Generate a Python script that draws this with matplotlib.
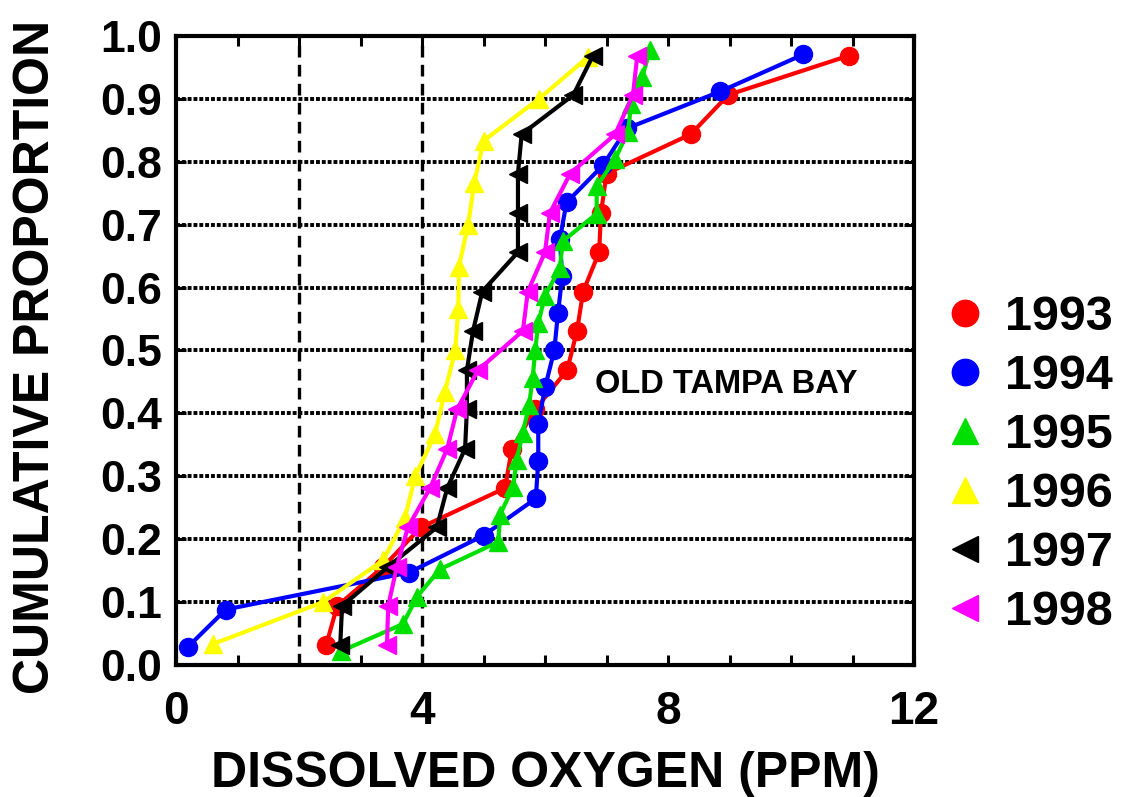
import numpy as np
import matplotlib
matplotlib.use("Agg")
import matplotlib.pyplot as plt
from matplotlib.ticker import MultipleLocator, FormatStrFormatter

plt.rcParams['font.family'] = ['Liberation Sans', 'DejaVu Sans']
plt.rcParams['font.weight'] = 'bold'

# dissolved oxygen (ppm), sorted, one list per year
do_1993 = [2.44, 2.62, 3.37, 3.98, 5.35, 5.46, 5.84, 6.36, 6.52, 6.62, 6.88, 6.91, 7.0, 8.37, 8.98, 10.94]
do_1994 = [0.2, 0.81, 3.79, 5.0, 5.85, 5.89, 5.89, 6.0, 6.15, 6.21, 6.28, 6.24, 6.35, 6.94, 7.33, 8.85, 10.2]
do_1995 = [2.68, 3.69, 3.92, 4.29, 5.24, 5.27, 5.48, 5.54, 5.64, 5.74, 5.8, 5.84, 5.89, 6.0, 6.24, 6.29,
           6.84, 6.84, 7.14, 7.35, 7.4, 7.58, 7.71]
do_1996 = [0.6, 2.39, 3.37, 3.72, 3.89, 4.21, 4.37, 4.54, 4.59, 4.6, 4.75, 4.85, 5.0, 5.9, 6.7]
do_1997 = [2.67, 2.7, 3.45, 4.24, 4.41, 4.7, 4.73, 4.73, 4.83, 4.98, 5.56, 5.56, 5.56, 5.62, 6.46, 6.78]
do_1998 = [3.43, 3.45, 3.59, 3.77, 4.13, 4.41, 4.57, 4.91, 5.64, 5.72, 6.0, 6.08, 6.41, 7.14, 7.43, 7.5]

years = ['1993', '1994', '1995', '1996', '1997', '1998']
series = [do_1993, do_1994, do_1995, do_1996, do_1997, do_1998]
colors = ['#ff0000', '#0000ff', '#00e000', '#ffff00', '#000000', '#ff00ff']
markers = ['o', 'o', '^', '^', '<', '<']


def plotting_position(n):
    # (i - 0.5) / n for i = 1..n
    return (np.arange(1, n + 1) - 0.5) / n


fig = plt.figure(figsize=(11.29, 7.97), dpi=100)
ax = fig.add_axes([0.1559, 0.1656, 0.6537, 0.7893])

for y in np.arange(0.1, 1.0, 0.1):
    ax.axhline(y, color='black', lw=2.8, ls=(0, (1.0, 0.5)), zorder=1)
for x in [2, 4]:
    ax.axvline(x, color='black', lw=2.4, ls=(0, (3.5, 2.2)), zorder=1)

handles = []
for yr, vals, c, m in zip(years, series, colors, markers):
    p = plotting_position(len(vals))
    ax.plot(vals, p, color=c, lw=3.0, marker=m, ms=13, mec=c, mfc=c, zorder=3)
    h, = ax.plot([], [], ls='none', color=c, marker=m, ms=19, mec=c, mfc=c, label=yr)
    handles.append(h)

ax.text(8.95, 0.446, 'OLD TAMPA BAY', fontsize=23.5, fontweight='bold', ha='center', va='center')

ax.set_xlim(0, 12)
ax.set_ylim(0, 1.0)
ax.xaxis.set_major_locator(MultipleLocator(4))
ax.xaxis.set_minor_locator(MultipleLocator(1))
ax.yaxis.set_major_locator(MultipleLocator(0.1))
ax.yaxis.set_major_formatter(FormatStrFormatter('%.1f'))
ax.tick_params(which='both', direction='in', top=True, right=True, length=7, width=2.2)
ax.tick_params(axis='x', which='major', labelsize=33, pad=18)
ax.tick_params(axis='y', which='major', labelsize=32, pad=10)
for s in ax.spines.values():
    s.set_linewidth(3)

ax.set_xlabel('DISSOLVED OXYGEN (PPM)', fontsize=36, fontweight='bold', labelpad=12)
ax.set_ylabel('CUMULATIVE PROPORTION', fontsize=36, fontweight='bold')
ax.yaxis.set_label_coords(-0.158, 0.49)

fig.legend(handles=handles, loc='center left', bbox_to_anchor=(0.82, 0.4166), frameon=False,
           prop={'size': 35, 'weight': 'bold'}, handlelength=0.8, handletextpad=0.42,
           labelspacing=0.29, borderaxespad=0)

fig.savefig('out.png', dpi=100)
